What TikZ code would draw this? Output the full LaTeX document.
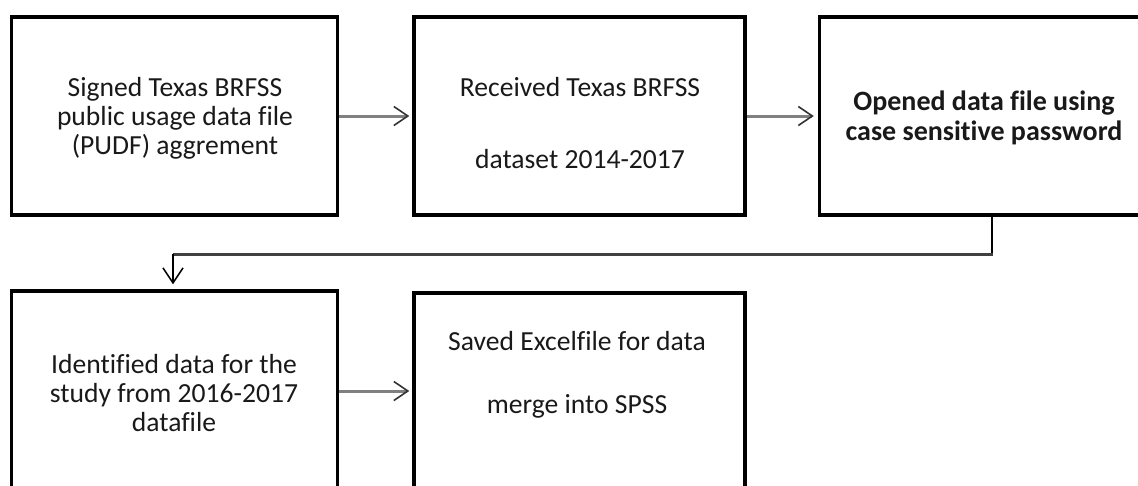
\documentclass[tikz,border=0pt]{standalone}
\usepackage{fontspec}
\setmainfont{Carlito}[Ligatures=NoCommon]
\usetikzlibrary{arrows.meta,calc}

\begin{document}
\begin{tikzpicture}[x=1pt,y=-1pt,
  stepbox/.style={draw=black,line width=3.5pt,rectangle,inner sep=0pt},
  steptext/.style={align=center,font=\fontsize{27.6}{29}\selectfont,text=black!90,inner sep=0pt},
  flow/.style={draw=black!50,line width=3pt,
    -{Straight Barb[length=14pt,width=19pt,line width=1.6pt,color=black!80]}},
  link/.style={draw=black!75,line width=2.5pt},
  drop/.style={draw=black,line width=1.5pt,
    -{Straight Barb[length=15pt,width=20pt,line width=1.5pt]}}]
\useasboundingbox (0,0) rectangle (1138,485);

% boxes
\node[stepbox,minimum width=326pt,minimum height=198pt] (b1) at (174.5,116) {};
\node[stepbox,minimum width=331pt,minimum height=198pt] (b2) at (579.5,116) {};
\node[stepbox,minimum width=344pt,minimum height=198pt] (b3) at (991.5,116) {};
\node[stepbox,minimum width=326pt,minimum height=206pt] (b4) at (174.5,394) {};
\node[stepbox,minimum width=331pt,minimum height=204pt] (b5) at (579.5,395) {};

% box texts
\node[steptext] (t1) at (175,118) {Signed Texas BRFSS\\public usage data file\\(PUDF) aggrement};
\node[steptext] (t2) at (580,123) {Received Texas BRFSS\\[43pt]dataset 2014-2017};
\node[steptext,font=\bfseries\fontsize{28}{30}\selectfont] (t3) at (984,118) {Opened data file using\\case sensitive password};
\node[steptext] (t4) at (174,393) {Identified data for the\\study from 2016-2017\\datafile};
\node[steptext] (t5) at (577,375) {Saved Excelfile for data\\[34pt]merge into SPSS};

% connectors
\draw[flow,shorten >=3pt] (b1.east) -- (b2.west);
\draw[flow,shorten >=4pt] (b2.east) -- (b3.west);
\coordinate (c1) at (992,254.5);
\coordinate (c2) at (173,254.5);
\draw[draw=black,line width=2pt] (b3.south -| c1) -- (c1);
\draw[link] ([xshift=1pt]c1) -- (c2);
\draw[drop,shorten >=5pt] ([yshift=1pt]c2) -- (c2 |- b4.north);
\draw[flow,shorten >=3pt] ([yshift=3pt]b4.east) -- ([yshift=3pt]b4.east -| b5.west);
\end{tikzpicture}
\end{document}
